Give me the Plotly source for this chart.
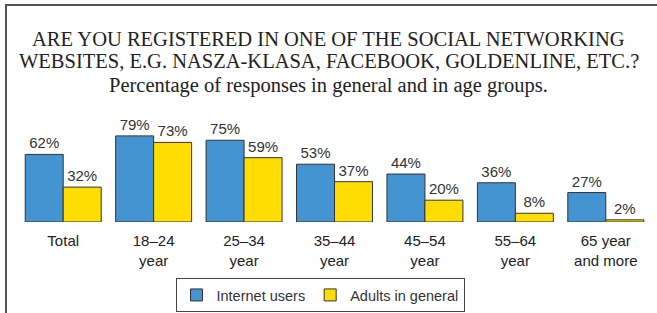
import plotly.graph_objects as go

categories = ["Total", "18–24<br>year", "25–34<br>year", "35–44<br>year",
              "45–54<br>year", "55–64<br>year", "65 year<br>and more"]
internet_users = [62, 79, 75, 53, 44, 36, 27]
adults_general = [32, 73, 59, 37, 20, 8, 2]
series_names = ["Internet users", "Adults in general"]
title_lines = [
    "ARE YOU REGISTERED IN ONE OF THE SOCIAL NETWORKING",
    "WEBSITES, E.G. NASZA-KLASA, FACEBOOK, GOLDENLINE, ETC.?",
    "Percentage of responses in general and in age groups.",
]

W, H = 657, 313
ML, MR, MT, MB = 18, 6, 113, 91
plot_h = H - MT - MB
plot_w = W - ML - MR


def py(pix):
    return (H - MB - pix) / plot_h


def px(pix):
    return (pix - ML) / plot_w


sans = "Liberation Sans, Arial, sans-serif"
serif = "Liberation Serif, Times New Roman, serif"

fig = go.Figure()
fig.add_trace(go.Bar(
    x=categories, y=internet_users, name=series_names[0],
    marker=dict(color="#4394d1", line=dict(color="#333333", width=1)),
    text=[f"{v}%" for v in internet_users], textposition="outside",
    textfont=dict(family=sans, size=15, color="#333333"), cliponaxis=False,
))
fig.add_trace(go.Bar(
    x=categories, y=adults_general, name=series_names[1],
    marker=dict(color="#ffdd00", line=dict(color="#333333", width=1)),
    text=[f"{v}%" for v in adults_general], textposition="outside",
    textfont=dict(family=sans, size=15, color="#333333"), cliponaxis=False,
))

title_y = [39, 61, 85]
for line, yy in zip(title_lines, title_y):
    fig.add_annotation(text=line, xref="paper", yref="paper", x=px(W / 2), y=py(yy),
                       xanchor="center", yanchor="middle", showarrow=False,
                       font=dict(family=serif, size=20.5, color="#222222"))

fig.add_shape(type="rect", xref="paper", yref="paper",
              x0=px(6), x1=px(W + 20), y0=py(H + 20), y1=py(5),
              line=dict(color="#555555", width=2), fillcolor="rgba(0,0,0,0)")

fig.update_layout(
    width=W, height=H,
    margin=dict(l=ML, r=MR, t=MT, b=MB, pad=0, autoexpand=False),
    paper_bgcolor="white", plot_bgcolor="white",
    barmode="group", bargap=0.16, bargroupgap=0,
    showlegend=True,
    legend=dict(orientation="h", xref="container", yref="container",
                x=320 / W, y=1 - 278 / H, xanchor="center", yanchor="top",
                bordercolor="#444444", borderwidth=1, bgcolor="white",
                font=dict(family=sans, size=14.5, color="#333333"),
                itemwidth=30, tracegroupgap=0),
    xaxis=dict(showgrid=False, showline=False, ticks="", zeroline=False, automargin=False,
               tickfont=dict(family=sans, size=15, color="#222222"), ticklabelstandoff=8),
    yaxis=dict(range=[0, 100], visible=False, automargin=False),
)

fig.write_html("out.html", config={"displayModeBar": False},
               post_script="document.body.style.margin='0';")
